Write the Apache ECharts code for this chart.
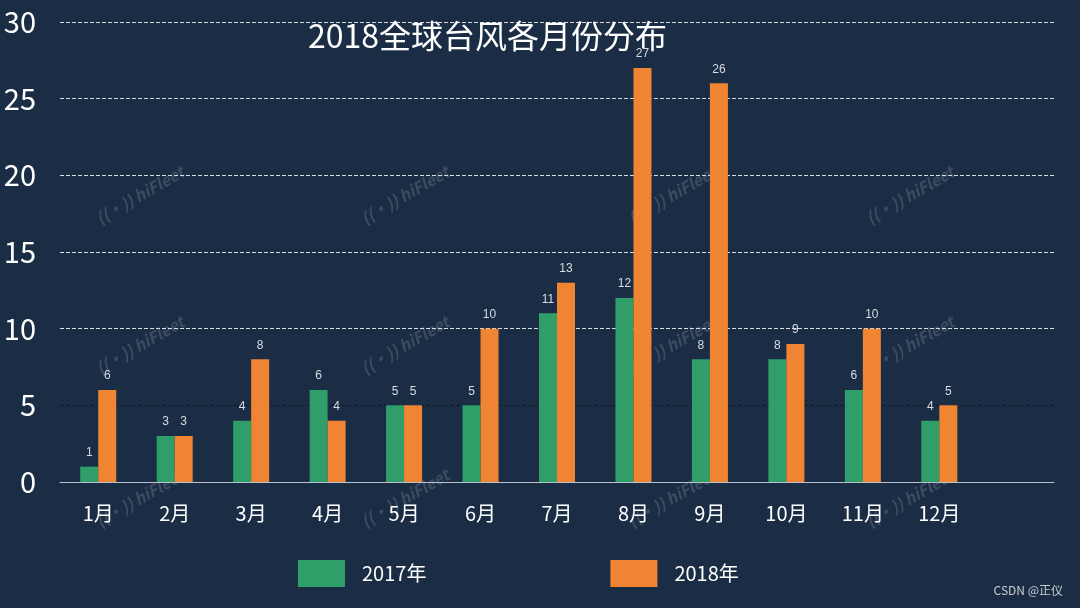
<!DOCTYPE html>
<html>
<head>
<meta charset="utf-8">
<script src="https://cdn.jsdelivr.net/npm/echarts@6/dist/echarts.min.js"></script>
<style>html,body{margin:0;padding:0;background:#1a2d45;}#c{width:1080px;height:608px;}</style>
</head>
<body>
<div id="c"></div>
<script>
var categories = ['1月','2月','3月','4月','5月','6月','7月','8月','9月','10月','11月','12月'];
var values2017 = [1,3,4,6,5,5,11,12,8,8,6,4];
var values2018 = [6,3,8,4,5,10,13,27,26,9,10,5];
var yTicks = [0,5,10,15,20,25,30];

var font = '"Noto Sans CJK SC","Noto Sans",sans-serif';
var numFont = '"Liberation Sans",Arial,sans-serif';
var chart = echarts.init(document.getElementById('c'));

var marks = [];
var wx = [140, 405, 672, 910], wy = [195, 345, 498];
wy.forEach(function(y){ wx.forEach(function(x){
  marks.push({type:'text', x:x, y:y, rotation:Math.PI/6, silent:true,
    style:{text:'((·)) hiFleet', fill:'rgba(255,255,255,0.15)', font:'italic bold 16px ' + font, textAlign:'center', textVerticalAlign:'middle'}});
});});
marks.push({type:'text', right:17, top:584, silent:true,
  style:{text:'CSDN @正仪', fill:'#c8ccd2', font:'12px ' + font}});

chart.setOption({
  backgroundColor:'#1a2d45',
  title:{text:'2018全球台风各月份分布', left:303, top:15,
    textStyle:{color:'#ffffff', fontSize:32, fontWeight:'normal', fontFamily:font}},
  legend:{left:293, top:555, itemWidth:47, itemHeight:27, itemGap:184, icon:'rect',
    textStyle:{color:'#ffffff', fontSize:20, fontFamily:font, padding:[0,0,0,12]},
    data:['2017年','2018年']},
  grid:{left:60, top:22, width:994, bottom:126},
  xAxis:{type:'category', data:categories.concat(['']),
    axisLine:{lineStyle:{color:'#b9c3cf', width:1}},
    axisTick:{show:false},
    axisLabel:{color:'#ffffff', fontSize:20, fontFamily:font, margin:21}},
  yAxis:{type:'value', min:yTicks[0], max:yTicks[yTicks.length-1], interval:5,
    axisLine:{show:false}, axisTick:{show:false},
    axisLabel:{color:'#ffffff', fontSize:29, fontFamily:font, margin:24},
    splitLine:{lineStyle:{color:['#b9c3cf','#0e1a2a','#d8dde3','#d8dde3','#d8dde3','#d8dde3','#d8dde3'], type:'dashed', width:1}}},
  graphic:marks,
  series:[
    {name:'2017年', type:'bar', data:values2017, barWidth:18, barGap:'0%',
      itemStyle:{color:'#2f9e68'},
      label:{show:true, position:'top', color:'#d8dce2', fontSize:12, fontFamily:numFont, distance:8}},
    {name:'2018年', type:'bar', data:values2018, barWidth:18,
      itemStyle:{color:'#ef8433'},
      label:{show:true, position:'top', color:'#d8dce2', fontSize:12, fontFamily:numFont, distance:8}}
  ]
});
</script>
</body>
</html>
